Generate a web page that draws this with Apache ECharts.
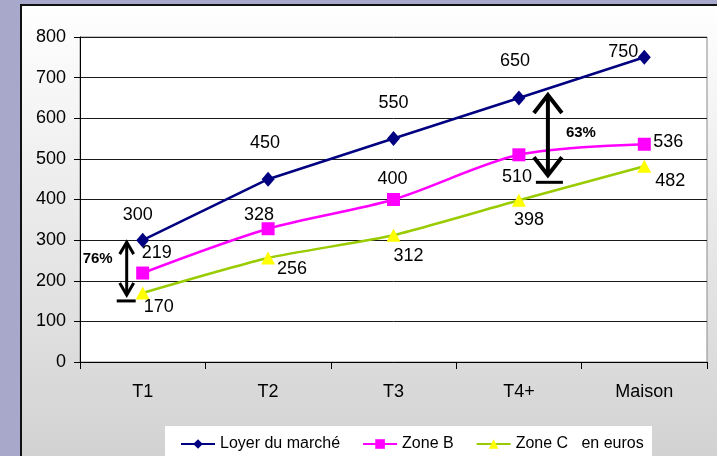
<!DOCTYPE html>
<html>
<head>
<meta charset="utf-8">
<script src="https://cdn.jsdelivr.net/npm/echarts@6/dist/echarts.min.js"></script>
<style>
  html, body { margin: 0; padding: 0; background: #A8A8CB; }
  #chart { width: 717px; height: 456px; }
</style>
</head>
<body>
<div id="chart"></div>
<script>
// Loyers mensuels par type de logement (en euros)
const categories = ['T1', 'T2', 'T3', 'T4+', 'Maison'];
const loyerMarche = [300, 450, 550, 650, 750];
const zoneB = [219, 328, 400, 510, 536];
const zoneC = [170, 256, 312, 398, 482];
const yMin = 0, yMax = 800, yStep = 100;

// Écarts annotés entre le loyer du marché et la zone C
const ecarts = [
  { cat: 'T1', haut: 300, bas: 170, texte: '76%' },
  { cat: 'T4+', haut: 650, bas: 398, texte: '63%' }
];

// Placement des étiquettes de valeur (décalage en pixels depuis le point)
const offsetsMarche = [[-5, -25], [-3, -36], [0, -36], [-4, -37], [-21, -5]];
const offsetsB = [[14, -20], [-9, -14], [-1, -20], [-2, 22], [24, -2]];
const offsetsC = [[16, 14], [24, 11], [15, 21], [10, 20], [26, 15]];

const FONT = 'Liberation Sans, Arial, sans-serif';

function withLabels(values, offsets) {
  return values.map((v, i) => ({
    value: v,
    label: {
      show: true,
      position: 'inside',
      offset: offsets[i],
      align: 'center',
      verticalAlign: 'middle',
      color: '#000',
      fontSize: 18,
      fontFamily: FONT
    }
  }));
}

// Fond du cadre et cartouche blanc de la légende
const backdrop = [
  {
    type: 'rect', z: -20,
    shape: { x: 21, y: 5, width: 717, height: 460 },
    style: {
      fill: new echarts.graphic.LinearGradient(0, 0, 0, 1, [
        { offset: 0, color: '#ffffff' },
        { offset: 1, color: '#d1d1d1' }
      ]),
      stroke: '#111', lineWidth: 2
    }
  },
  {
    type: 'rect', z: -10,
    shape: { x: 165, y: 426, width: 487, height: 40 },
    style: { fill: '#ffffff' }
  }
];

const chart = echarts.init(document.getElementById('chart'), null, { renderer: 'canvas' });

chart.setOption({
  backgroundColor: '#A8A8CB',
  animation: false,
  textStyle: { fontFamily: FONT },
  graphic: backdrop,
  grid: {
    left: 80, right: 10, top: 37, bottom: 94,
    show: true, backgroundColor: '#ffffff', borderColor: '#8a8a8a', borderWidth: 1
  },
  legend: {
    left: 175, top: 431,
    itemWidth: 34, itemHeight: 12, itemGap: 22,
    textStyle: { color: '#000', fontSize: 16, fontFamily: FONT },
    formatter: name => name === 'Zone C' ? 'Zone C   en euros' : name,
    data: ['Loyer du marché', 'Zone B', 'Zone C']
  },
  xAxis: {
    type: 'category',
    data: categories,
    boundaryGap: true,
    axisLine: { lineStyle: { color: '#000', width: 1 } },
    axisTick: { show: true, length: 7, lineStyle: { color: '#000' } },
    axisLabel: { color: '#000', fontSize: 18, margin: 21, fontFamily: FONT }
  },
  yAxis: {
    type: 'value',
    min: yMin, max: yMax, interval: yStep,
    axisLine: { show: true, lineStyle: { color: '#000', width: 1 } },
    axisTick: { show: true, length: 6, lineStyle: { color: '#000' } },
    axisLabel: { color: '#000', fontSize: 18, margin: 14, fontFamily: FONT },
    splitLine: { show: true, lineStyle: { color: '#1a1a1a', width: 1 } }
  },
  series: [
    {
      name: 'Zone C', type: 'line', smooth: 0.2, z: 3,
      data: withLabels(zoneC, offsetsC),
      symbol: 'triangle', symbolSize: [14, 13],
      lineStyle: { color: '#99CC00', width: 2.5 },
      itemStyle: { color: '#FFFF00', borderWidth: 0 }
    },
    {
      name: 'Zone B', type: 'line', smooth: 0.3, z: 4,
      data: withLabels(zoneB, offsetsB),
      symbol: 'rect', symbolSize: 13,
      lineStyle: { color: '#FF00FF', width: 2.5 },
      itemStyle: { color: '#FF00FF', borderWidth: 0 }
    },
    {
      name: 'Loyer du marché', type: 'line', smooth: false, z: 5,
      data: withLabels(loyerMarche, offsetsMarche),
      symbol: 'diamond', symbolSize: [13, 15],
      lineStyle: { color: '#000080', width: 2.5 },
      itemStyle: { color: '#000080', borderWidth: 0 }
    }
  ]
});

// Flèches doubles des écarts, placées à partir des valeurs des séries
function px(cat, v) { return chart.convertToPixel({ gridIndex: 0 }, [cat, v]); }

const arrowStyles = [
  { dx: -16, topAdj: 2, bottomAdj: 2, barAdj: 8, head: 7, headH: 12, lw: 3, barL: -10, barR: 9, tdx: -29, tdy: -10 },
  { dx: 29, topAdj: -3, bottomAdj: -25, barAdj: -18, head: 14, headH: 18, lw: 4, barL: -12, barR: 15, tdx: 33, tdy: -2 }
];

const arrows = [];
ecarts.forEach((e, i) => {
  const s = arrowStyles[i];
  const top = px(e.cat, e.haut);
  const bot = px(e.cat, e.bas);
  const x = top[0] + s.dx;
  const y1 = top[1] + s.topAdj;
  const y2 = bot[1] + s.bottomAdj;
  const yb = bot[1] + s.barAdj;
  const stroke = { stroke: '#000', lineWidth: s.lw, fill: null, lineJoin: 'miter' };
  arrows.push(
    { type: 'line', z: 100, shape: { x1: x, y1: y1, x2: x, y2: y2 }, style: stroke },
    { type: 'polyline', z: 100, shape: { points: [[x - s.head, y1 + s.headH], [x, y1], [x + s.head, y1 + s.headH]] }, style: stroke },
    { type: 'polyline', z: 100, shape: { points: [[x - s.head, y2 - s.headH], [x, y2], [x + s.head, y2 - s.headH]] }, style: stroke },
    { type: 'line', z: 100, shape: { x1: x + s.barL, y1: yb, x2: x + s.barR, y2: yb }, style: { stroke: '#000', lineWidth: 3 } },
    {
      type: 'text', z: 100,
      x: x + s.tdx, y: (y1 + y2) / 2 + s.tdy,
      style: { text: e.texte, fill: '#000', font: 'bold 15px ' + FONT, align: 'center', verticalAlign: 'middle' }
    }
  );
});

chart.setOption({ graphic: backdrop.concat(arrows) }, { replaceMerge: ['graphic'] });
</script>
</body>
</html>
